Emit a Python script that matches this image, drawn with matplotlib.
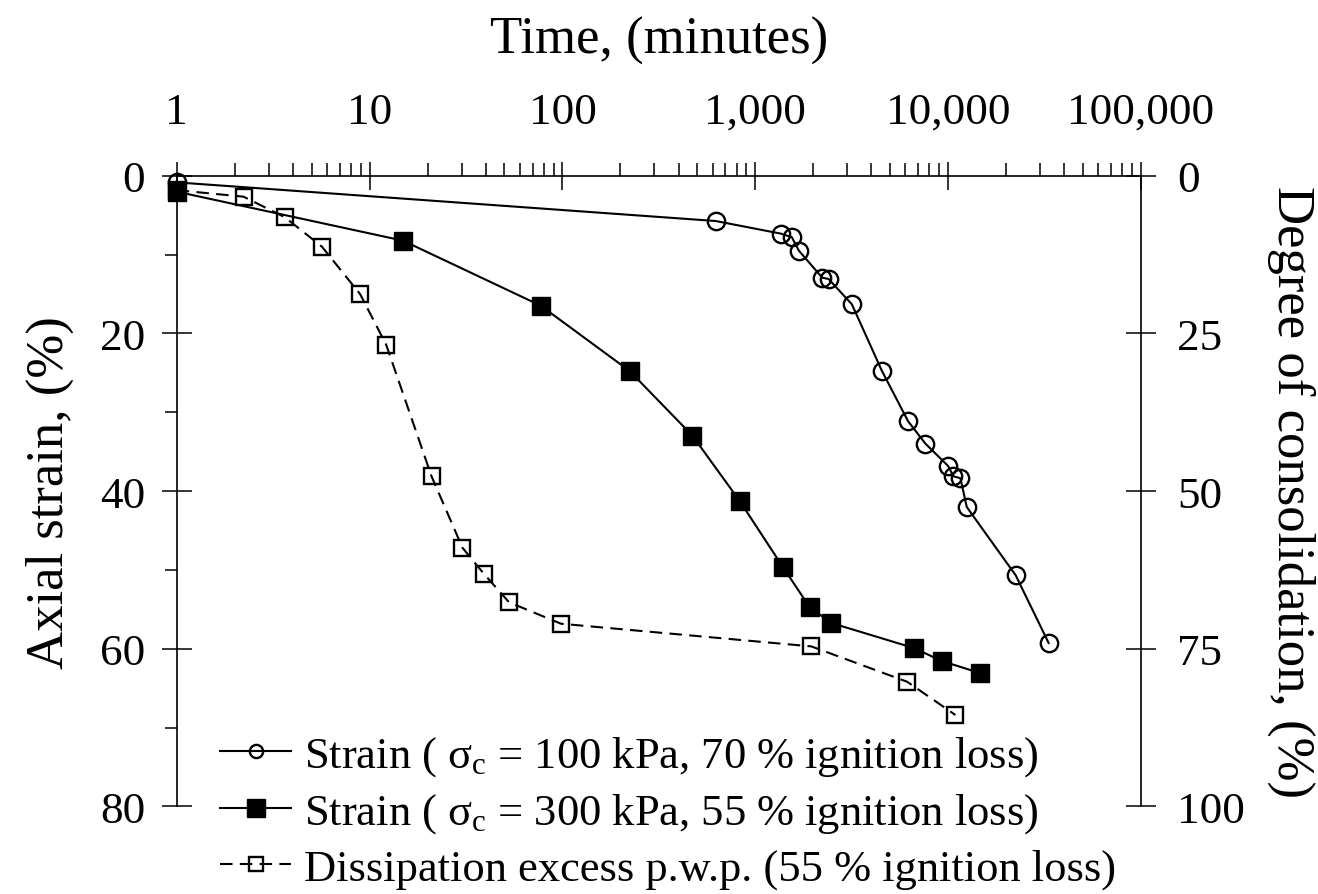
import numpy as np
import matplotlib.pyplot as plt
from matplotlib.ticker import FixedLocator, LogLocator, NullFormatter
from matplotlib.legend_handler import HandlerLine2D

plt.rcParams['font.family'] = 'Liberation Serif'
plt.rcParams['mathtext.fontset'] = 'custom'
plt.rcParams['mathtext.rm'] = 'Liberation Serif'
plt.rcParams['mathtext.it'] = 'Liberation Serif:italic'

# Strain, sigma_c = 100 kPa, 70 % ignition loss  (time in minutes, strain in %)
t_100 = [1, 623, 1363, 1547, 1682, 2225, 2398, 3168, 4529, 6202, 7627,
         10000, 10650, 11580, 12490, 22400, 33200]
strain_100 = [0.85, 5.75, 7.36, 7.81, 9.51, 12.94, 13.10, 16.31, 24.73, 31.15,
              33.99, 36.82, 38.12, 38.38, 42.02, 50.68, 59.27]

# Strain, sigma_c = 300 kPa, 55 % ignition loss
t_300 = [1, 14.9, 77.2, 223, 472, 832, 1390, 1911, 2476, 6633, 9265, 14700]
strain_300 = [2.03, 8.24, 16.49, 24.77, 32.97, 41.29, 49.63, 54.70, 56.73,
              59.90, 61.55, 63.1]

# Dissipation of excess p.w.p. -> degree of consolidation (%)
t_pwp = [1, 2.22, 3.64, 5.66, 8.94, 12.19, 20.95, 30.3, 39.1, 52.9, 98.3,
         1950, 6133, 10910]
u_pwp = [2.3, 3.33, 6.60, 11.26, 18.80, 26.80, 47.66, 58.98, 63.1, 67.64,
         71.03, 74.62, 80.23, 85.5]

x_major = [1, 10, 100, 1000, 10000, 100000]
x_labels = ['1', '10', '100', '1,000', '10,000', '100,000']
strain_major = [0, 20, 40, 60, 80]
strain_minor = [10, 30, 50, 70]
cons_major = [0, 25, 50, 75, 100]

labels = [u'Strain ( σ$_{\\mathrm{c}}$ = 100 kPa, 70 % ignition loss)',
          u'Strain ( σ$_{\\mathrm{c}}$ = 300 kPa, 55 % ignition loss)',
          'Dissipation excess p.w.p. (55 % ignition loss)']

fig = plt.figure(figsize=(13.18, 8.95), dpi=100)
ax = fig.add_axes([0.1341, 0.0978, 0.7316, 0.7048])
ax2 = ax.twinx()

lw = 1.5
l1, = ax.plot(t_100, strain_100, '-o', color='black', lw=lw, ms=12.5,
              mfc='none', mew=1.7, clip_on=False, zorder=3)
l2, = ax.plot(t_300, strain_300, '-s', color='black', lw=lw, ms=12.5,
              mfc='black', mew=1.0, clip_on=False, zorder=3)
l3, = ax2.plot(t_pwp, u_pwp, marker='s', ls=(0, (6, 3.5)), color='black',
               lw=lw, ms=12, mfc='none', mew=1.7, clip_on=False, zorder=2)

ax.set_xscale('log')
ax.set_xlim(1, 1e5)
ax.set_ylim(80, 0)
ax2.set_ylim(100, 0)

for s in ['bottom', 'right']:
    ax.spines[s].set_visible(False)
for s in ['bottom', 'top', 'left']:
    ax2.spines[s].set_visible(False)
for s in ['top', 'left']:
    ax.spines[s].set_linewidth(1.2)
ax2.spines['right'].set_linewidth(1.2)

ax.xaxis.tick_top()
ax.xaxis.set_label_position('top')
ax.xaxis.set_major_locator(FixedLocator(x_major))
ax.set_xticklabels(x_labels)
ax.xaxis.set_minor_locator(LogLocator(base=10, subs=np.arange(2, 10)))
ax.xaxis.set_minor_formatter(NullFormatter())
ax.tick_params(axis='x', which='major', direction='inout', length=19.5,
               width=1.1, labelsize=32.5, pad=22)
ax.tick_params(axis='x', which='minor', direction='out', length=9.5, width=1.1)

ax.yaxis.set_major_locator(FixedLocator(strain_major))
ax.yaxis.set_minor_locator(FixedLocator(strain_minor))
ax.tick_params(axis='y', which='major', direction='inout', length=21.5,
               width=1.1, labelsize=32.5, pad=12)
ax.tick_params(axis='y', which='minor', direction='out', length=8.6, width=1.1)

ax2.yaxis.set_major_locator(FixedLocator(cons_major))
ax2.tick_params(axis='y', which='major', direction='inout', length=22,
                width=1.1, labelsize=32.5, pad=15)

ax.set_xlabel('Time, (minutes)', fontsize=38, labelpad=28)
ax.set_ylabel('Axial strain, (%)', fontsize=38, labelpad=19)
ax2.set_ylabel('Degree of consolidation, (%)', fontsize=38, rotation=270,
               va='bottom', labelpad=16)


def small_marker(handle, orig):
    handle.update_from(orig)
    if orig.get_marker() == 'o' or orig.get_markerfacecolor() == 'none':
        handle.set_markersize(9.5)


ax.legend([l1, l2, l3], labels, loc='upper left',
          bbox_to_anchor=(220 / 1318, 1 - 735 / 895),
          bbox_transform=fig.transFigure, frameon=False, fontsize=32,
          borderpad=0, borderaxespad=0, handlelength=1.6,
          handletextpad=0.29, labelspacing=0.3,
          handler_map={l1: HandlerLine2D(update_func=small_marker),
                       l3: HandlerLine2D(update_func=small_marker)})

fig.savefig('out.png', dpi=100)
